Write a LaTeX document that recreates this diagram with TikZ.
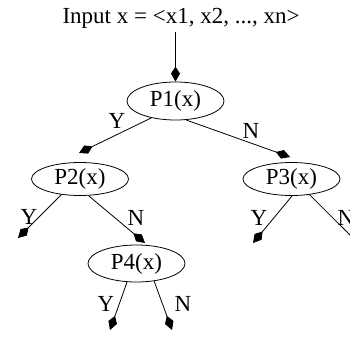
\documentclass[tikz,border=0pt]{standalone}
\usepackage{fontspec}
\setmainfont{Liberation Serif}
\usetikzlibrary{shapes.geometric,arrows.meta}
\begin{document}
\begin{tikzpicture}[x=1pt,y=-1pt,
  every node/.style={font=\fontsize{23}{27}\selectfont, inner sep=0pt},
  test/.style={draw, ellipse, line width=0.8pt, minimum width=97pt},
  conn/.style={line width=0.8pt, -{Kite[length=15pt,width=9pt,inset=7pt]}},
  lbl/.style={anchor=center}]
\useasboundingbox (0,0) rectangle (350,337);
\node[anchor=base] (in) at (181,23.3) {Input x = <x1, x2, ..., xn>};
\node[test, minimum height=38pt] (P1) at (175.5,101) {P1(x)};
\node[test, minimum height=33pt] (P2) at (80,179) {P2(x)};
\node[test, minimum height=33pt] (P3) at (291.5,179) {P3(x)};
\node[test, minimum height=37pt] (P4) at (136.5,263.5) {P4(x)};
\coordinate (s0) at (175.5,32);
\coordinate (t2y) at (18,238);
\coordinate (t3y) at (253,243);
\coordinate (t3n) at (367,252);
\coordinate (t4y) at (110,330);
\coordinate (t4n) at (172,330);
\draw[conn] (s0) -- (P1.north);
\draw[conn] (P1.215) -- (79,153) coordinate (e12);
\draw[conn] (P1.-61) -- (290,157) coordinate (e13);
\draw[conn] (P2.220) -- (t2y);
\draw[conn] (P2.-63) -- (145,243) coordinate (e24);
\draw[conn] (P3.-88) -- (t3y);
\draw[conn] (P3.-41) -- (t3n);
\draw[conn] (P4.-117) -- (t4y);
\draw[conn] (P4.-45) -- (t4n);
\node[lbl] (l12) at (117,121) {Y};
\node[lbl] (l13) at (251,131) {N};
\node[lbl] (l2y) at (29,217) {Y};
\node[lbl] (l2n) at (136,218) {N};
\node[lbl] (l3y) at (259,218) {Y};
\node[lbl] (l3n) at (346,218) {N};
\node[lbl] (l4y) at (106,304) {Y};
\node[lbl] (l4n) at (183,304) {N};
\end{tikzpicture}
\end{document}
